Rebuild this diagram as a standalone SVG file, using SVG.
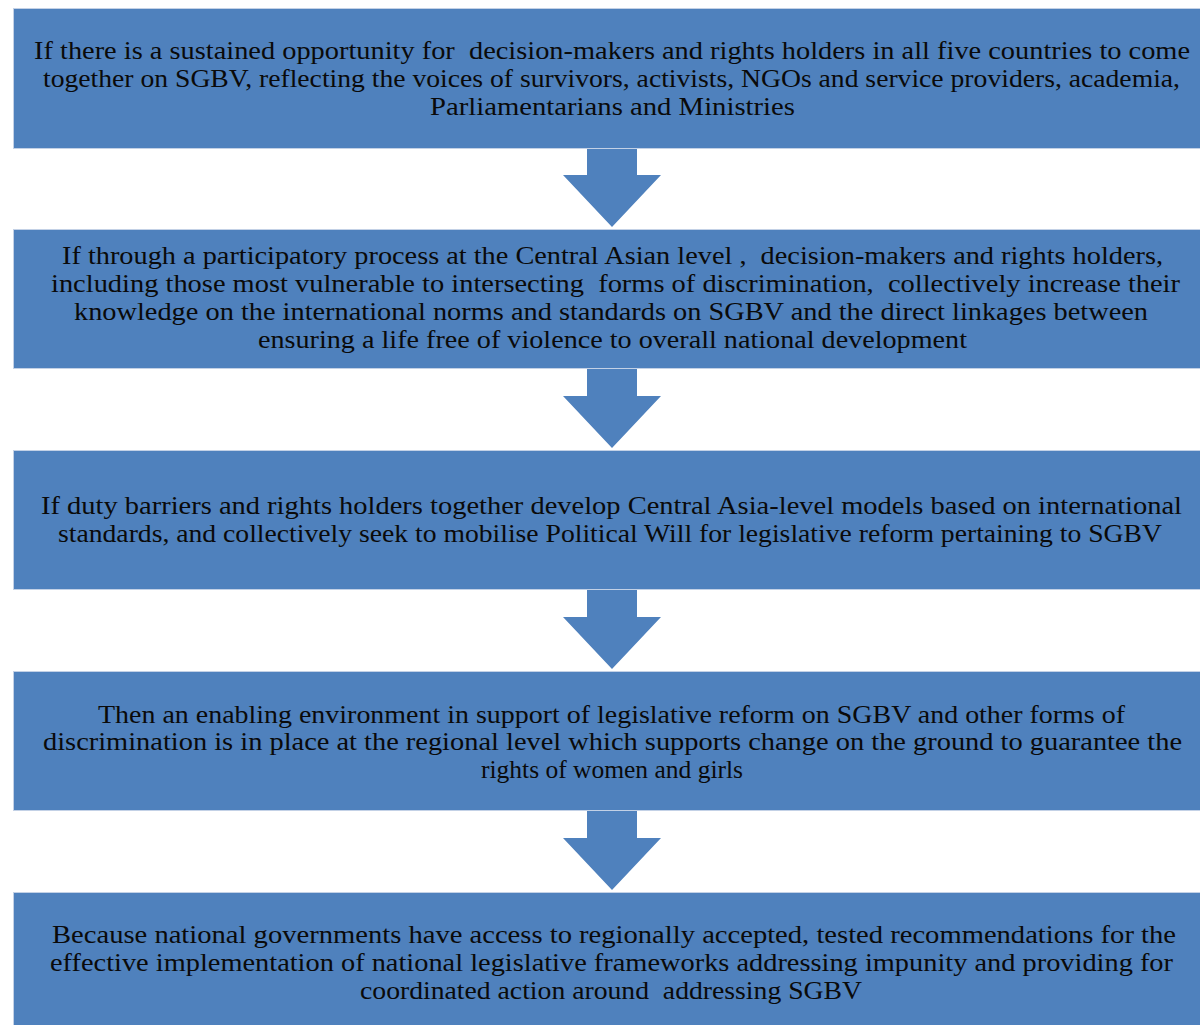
<svg xmlns="http://www.w3.org/2000/svg" width="1200" height="1025" viewBox="0 0 1200 1025">
<style>
.box{fill:#4F81BD;stroke:#c3d1e6;stroke-width:1}
.arr{fill:#4F81BD}
text{font-family:"Liberation Serif","DejaVu Serif",serif;font-size:25.5px;fill:#0a0a0a;white-space:pre}
.c{text-anchor:middle}
</style>
<rect x="0" y="0" width="1200" height="1025" fill="#ffffff"/>
<g id="connectors">
<path class="arr" d="M587,148 H637 V175 H661 L612,227 L563,175 H587 Z"/>
<path class="arr" d="M587,369 H637 V396 H661 L612,448 L563,396 H587 Z"/>
<path class="arr" d="M587,590 H637 V617 H661 L612,669 L563,617 H587 Z"/>
<path class="arr" d="M587,811 H637 V838 H661 L612,890 L563,838 H587 Z"/>
</g>
<g id="node1">
<rect class="box" x="13.5" y="8.5" width="1200" height="140"/>
<text x="34" y="59" textLength="1156" lengthAdjust="spacingAndGlyphs">If there is a sustained opportunity for  decision-makers and rights holders in all five countries to come</text>
<text x="43" y="87" textLength="1137" lengthAdjust="spacingAndGlyphs">together on SGBV, reflecting the voices of survivors, activists, NGOs and service providers, academia,</text>
<text x="430" y="115" textLength="365" lengthAdjust="spacingAndGlyphs">Parliamentarians and Ministries</text>
</g>
<g id="node2">
<rect class="box" x="13.5" y="229.5" width="1200" height="139"/>
<text x="62" y="264" textLength="1101" lengthAdjust="spacingAndGlyphs">If through a participatory process at the Central Asian level ,  decision-makers and rights holders,</text>
<text x="51" y="292" textLength="1129" lengthAdjust="spacingAndGlyphs">including those most vulnerable to intersecting  forms of discrimination,  collectively increase their</text>
<text x="74" y="320" textLength="1074" lengthAdjust="spacingAndGlyphs">knowledge on the international norms and standards on SGBV and the direct linkages between</text>
<text x="258" y="348" textLength="709" lengthAdjust="spacingAndGlyphs">ensuring a life free of violence to overall national development</text>
</g>
<g id="node3">
<rect class="box" x="13.5" y="450.5" width="1200" height="139"/>
<text x="41" y="514" textLength="1141" lengthAdjust="spacingAndGlyphs">If duty barriers and rights holders together develop Central Asia-level models based on international</text>
<text x="58" y="542" textLength="1104" lengthAdjust="spacingAndGlyphs">standards, and collectively seek to mobilise Political Will for legislative reform pertaining to SGBV</text>
</g>
<g id="node4">
<rect class="box" x="13.5" y="671.5" width="1200" height="139"/>
<text x="98" y="723" textLength="1027" lengthAdjust="spacingAndGlyphs">Then an enabling environment in support of legislative reform on SGBV and other forms of</text>
<text x="43" y="750" textLength="1139" lengthAdjust="spacingAndGlyphs">discrimination is in place at the regional level which supports change on the ground to guarantee the</text>
<text class="c" x="612" y="778">rights of women and girls</text>
</g>
<g id="node5">
<rect class="box" x="13.5" y="892.5" width="1200" height="140"/>
<text x="52" y="943" textLength="1124" lengthAdjust="spacingAndGlyphs">Because national governments have access to regionally accepted, tested recommendations for the</text>
<text x="50" y="971" textLength="1123" lengthAdjust="spacingAndGlyphs">effective implementation of national legislative frameworks addressing impunity and providing for</text>
<text x="360" y="999" textLength="502" lengthAdjust="spacingAndGlyphs">coordinated action around  addressing SGBV</text>
</g>
</svg>
